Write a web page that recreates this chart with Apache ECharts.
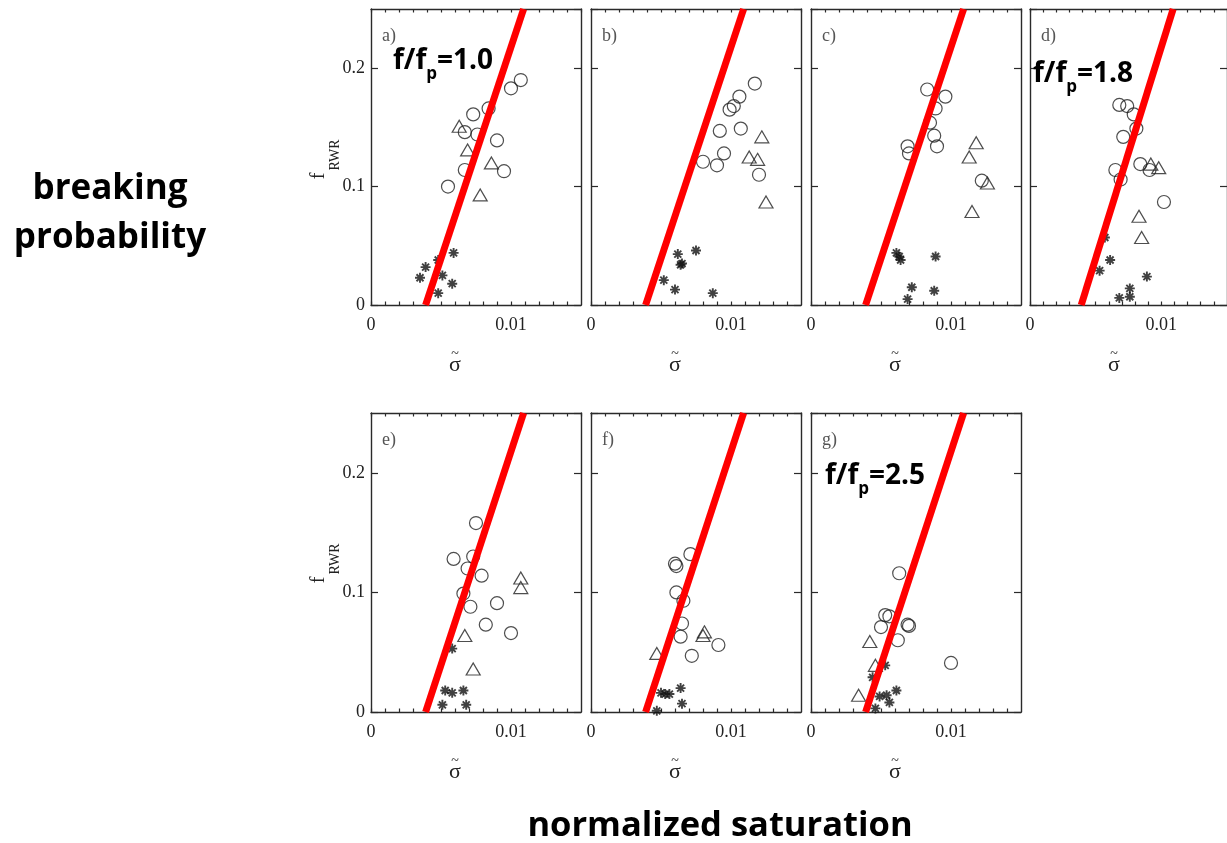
<!DOCTYPE html>
<html><head><meta charset="utf-8">
<script src="https://cdn.jsdelivr.net/npm/echarts@6/dist/echarts.min.js"></script>
<style>html,body{margin:0;padding:0;background:#fff}#c{width:1227px;height:843px}</style>
</head><body><div id="c"></div>
<script>
// ---------- data ----------
const panelNames = ['a)', 'b)', 'c)', 'd)', 'e)', 'f)', 'g)'];
const xTickLabels = ['0', '0.01'];
const yTickLabels = ['0', '0.1', '0.2'];
const fitLine = [[0.0039, 0], [0.0109, 0.25]];
const ratioPanels = [0, 3, 6];
const ratioValues = ['1.0', '1.8', '2.5'];

const aCircles = [[0.0107,0.190],[0.0100,0.183],[0.0084,0.166],[0.0073,0.161],[0.0067,0.146],[0.0076,0.144],[0.0090,0.139],[0.0095,0.113],[0.0067,0.114],[0.0055,0.100]];
const aTriangles = [[0.0063,0.151],[0.0069,0.131],[0.0086,0.120],[0.0078,0.093]];
const aStars = [[0.0039,0.032],[0.0035,0.023],[0.0048,0.038],[0.0059,0.044],[0.0051,0.025],[0.0058,0.018],[0.0048,0.010]];

const bCircles = [[0.0117,0.187],[0.0106,0.176],[0.0102,0.168],[0.0099,0.165],[0.0107,0.149],[0.0092,0.147],[0.0095,0.128],[0.0080,0.121],[0.0090,0.118],[0.0120,0.110]];
const bTriangles = [[0.0122,0.142],[0.0113,0.125],[0.0119,0.123],[0.0125,0.087]];
const bStars = [[0.0062,0.043],[0.0075,0.046],[0.0064,0.034],[0.0065,0.035],[0.0052,0.021],[0.0060,0.013],[0.0087,0.010]];

const cCircles = [[0.0083,0.182],[0.0096,0.176],[0.0089,0.166],[0.0085,0.154],[0.0088,0.143],[0.0090,0.134],[0.0069,0.134],[0.0070,0.128],[0.0122,0.105]];
const cTriangles = [[0.0118,0.137],[0.0113,0.125],[0.0126,0.103],[0.0115,0.079]];
const cStars = [[0.0061,0.044],[0.0063,0.041],[0.0064,0.038],[0.0089,0.041],[0.0072,0.015],[0.0088,0.012],[0.0069,0.005]];

const dCircles = [[0.0068,0.169],[0.0074,0.168],[0.0079,0.161],[0.0081,0.149],[0.0071,0.142],[0.0084,0.119],[0.0091,0.114],[0.0065,0.114],[0.0069,0.106],[0.0102,0.087]];
const dTriangles = [[0.0092,0.119],[0.0098,0.116],[0.0083,0.075],[0.0085,0.057]];
const dStars = [[0.0057,0.057],[0.0061,0.038],[0.0053,0.029],[0.0089,0.024],[0.0076,0.014],[0.0068,0.006],[0.0076,0.007]];

const eCircles = [[0.0075,0.158],[0.0059,0.128],[0.0073,0.130],[0.0069,0.120],[0.0079,0.114],[0.0066,0.099],[0.0071,0.088],[0.0090,0.091],[0.0082,0.073],[0.0100,0.066]];
const eTriangles = [[0.0107,0.112],[0.0107,0.104],[0.0067,0.064],[0.0073,0.036]];
const eStars = [[0.0058,0.053],[0.0053,0.018],[0.0058,0.016],[0.0066,0.018],[0.0051,0.006],[0.0068,0.006]];

const fCircles = [[0.0071,0.132],[0.0060,0.124],[0.0061,0.122],[0.0061,0.100],[0.0066,0.093],[0.0065,0.074],[0.0064,0.063],[0.0091,0.056],[0.0072,0.047]];
const fTriangles = [[0.0081,0.067],[0.0080,0.064],[0.0047,0.049]];
const fStars = [[0.0050,0.016],[0.0053,0.015],[0.0056,0.015],[0.0064,0.020],[0.0065,0.007],[0.0047,0.001]];

const gCircles = [[0.0063,0.116],[0.0053,0.081],[0.0056,0.080],[0.0050,0.071],[0.0069,0.073],[0.0070,0.072],[0.0062,0.060],[0.0100,0.041]];
const gTriangles = [[0.0042,0.059],[0.0046,0.039],[0.0034,0.014]];
const gStars = [[0.0053,0.039],[0.0044,0.029],[0.0061,0.018],[0.0054,0.014],[0.0049,0.013],[0.0056,0.008],[0.0046,0.003]];

const panels = [
  [aCircles, aTriangles, aStars],
  [bCircles, bTriangles, bStars],
  [cCircles, cTriangles, cStars],
  [dCircles, dTriangles, dStars],
  [eCircles, eTriangles, eStars],
  [fCircles, fTriangles, fStars],
  [gCircles, gTriangles, gStars]
];

// ---------- layout ----------
const gridLeft = [371, 591, 811, 1030, 371, 591, 811];
const gridTop = [9, 9, 9, 9, 413, 413, 413];
const gridH = [296, 296, 296, 296, 299, 299, 299];
const GW = 210;
const AX = '#2a2a2a';
const SERIF = '"Liberation Serif", "DejaVu Serif", serif';
const SANS = '"Open Sans", "Noto Sans", sans-serif';

function tickLabel(list, v) {
  for (const s of list) if (Math.abs(parseFloat(s) - v) < 1e-9) return s;
  return '';
}
const starPath = 'path://M5 0L5 10M0 5L10 5M1.5 1.5L8.5 8.5M1.5 8.5L8.5 1.5';

const grid = [], xAxis = [], yAxis = [], series = [], graphic = [];
panels.forEach((p, i) => {
  grid.push({left: gridLeft[i], top: gridTop[i], width: GW, height: gridH[i], containLabel: false});
  const baseX = {
    gridIndex: i, type: 'value', min: 0, max: 0.015, interval: 0.001,
    axisLine: {show: true, onZero: false, lineStyle: {color: AX, width: 1.4}},
    axisTick: {show: true, inside: true, length: 3.5, lineStyle: {color: AX, width: 1.2}},
    splitLine: {show: false}
  };
  xAxis.push(Object.assign({}, baseX, {position: 'bottom',
    axisLabel: {show: true, margin: 11, fontFamily: SERIF, fontSize: 18, color: '#222',
      showMinLabel: true, showMaxLabel: false, formatter: v => tickLabel(xTickLabels, v)}}));
  xAxis.push(Object.assign({}, baseX, {position: 'top', axisLabel: {show: false}}));
  const baseY = {
    gridIndex: i, type: 'value', min: 0, max: 0.25, interval: 0.1,
    axisLine: {show: true, onZero: false, lineStyle: {color: AX, width: 1.4}},
    axisTick: {show: true, inside: true, length: 7, lineStyle: {color: AX, width: 1.2}},
    splitLine: {show: false}
  };
  const showY = (i === 0 || i === 4);
  yAxis.push(Object.assign({}, baseY, {position: 'left',
    axisLabel: {show: showY, margin: 6, fontFamily: SERIF, fontSize: 18, color: '#222',
      showMinLabel: true, showMaxLabel: false, formatter: v => tickLabel(yTickLabels, v)}}));
  yAxis.push(Object.assign({}, baseY, {position: 'right', axisLabel: {show: false}}));

  const xi = 2 * i, yi = 2 * i;
  series.push({type: 'scatter', xAxisIndex: xi, yAxisIndex: yi, data: p[0], symbol: 'circle', symbolSize: 13,
    itemStyle: {color: 'rgba(255,255,255,0)', borderColor: '#222', borderWidth: 1.2}, z: 3});
  series.push({type: 'scatter', xAxisIndex: xi, yAxisIndex: yi, data: p[1], symbol: 'triangle', symbolSize: [14, 12],
    itemStyle: {color: 'rgba(255,255,255,0)', borderColor: '#222', borderWidth: 1.2}, z: 3});
  series.push({type: 'scatter', xAxisIndex: xi, yAxisIndex: yi, data: p[2], symbol: starPath, symbolSize: 10,
    itemStyle: {color: '#111', borderColor: '#111', borderWidth: 1.9}, z: 3});
  series.push({type: 'line', xAxisIndex: xi, yAxisIndex: yi, data: fitLine, showSymbol: false, symbol: 'none',
    lineStyle: {color: '#ff0000', width: 7}, z: 5, silent: true});

  // panel letter
  graphic.push({type: 'text', x: gridLeft[i] + 11, y: gridTop[i] + 27, z: 10,
    style: {text: panelNames[i], font: '18px ' + SERIF, fill: '#555', align: 'left', verticalAlign: 'middle'}});
  // sigma with tilde above
  const sx = gridLeft[i] + 84, sy = gridTop[i] + gridH[i] + 60;
  graphic.push({type: 'text', x: sx, y: sy, z: 10,
    style: {text: '\u03C3', font: '22px ' + SERIF, fill: '#222', align: 'center', verticalAlign: 'middle'}});
  graphic.push({type: 'text', x: sx, y: sy - 11, z: 10,
    style: {text: '~', font: '14px ' + SERIF, fill: '#222', align: 'center', verticalAlign: 'middle'}});
});

// y-axis names f_RWR
[0, 4].forEach(i => {
  const off = gridTop[i] - 9;
  graphic.push({type: 'text', x: 319, y: 176 + off, rotation: Math.PI / 2, z: 10,
    style: {text: 'f', font: '20px ' + SERIF, fill: '#222', align: 'center', verticalAlign: 'middle'}});
  graphic.push({type: 'text', x: 335, y: 155 + off, rotation: Math.PI / 2, z: 10,
    style: {text: 'RWR', font: '14px ' + SERIF, fill: '#222', align: 'center', verticalAlign: 'middle'}});
});

// ratio annotations
const ratioPos = [[393, 61], [1033, 74], [825, 476]];
ratioPanels.forEach((pi, k) => {
  graphic.push({type: 'text', x: ratioPos[k][0], y: ratioPos[k][1], z: 20,
    style: {
      text: '{m|f/f}{s|p}{m|=' + ratioValues[k] + '}',
      align: 'left', verticalAlign: 'middle',
      rich: {
        m: {fontFamily: SANS, fontWeight: 'bold', fontSize: 28, lineHeight: 43, fill: '#000', color: '#000', verticalAlign: 'middle'},
        s: {fontFamily: SANS, fontWeight: 'bold', fontSize: 17, lineHeight: 17, fill: '#000', color: '#000', verticalAlign: 'bottom'}
      }
    }});
});

graphic.push({type: 'text', x: 110, y: 189, z: 10,
  style: {text: 'breaking', font: 'bold 35px ' + SANS, fill: '#000', align: 'center', verticalAlign: 'middle'}});
graphic.push({type: 'text', x: 110, y: 238, z: 10,
  style: {text: 'probability', font: 'bold 35px ' + SANS, fill: '#000', align: 'center', verticalAlign: 'middle'}});
graphic.push({type: 'text', x: 720, y: 826, z: 10,
  style: {text: 'normalized saturation', font: 'bold 34.5px ' + SANS, fill: '#000', align: 'center', verticalAlign: 'middle'}});

const chart = echarts.init(document.getElementById('c'), null, {renderer: 'canvas'});
chart.setOption({animation: false, backgroundColor: '#fff', grid, xAxis, yAxis, series, graphic});
</script></body></html>
